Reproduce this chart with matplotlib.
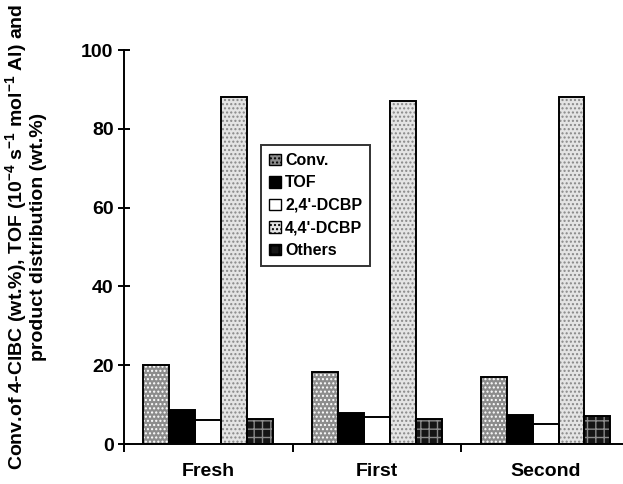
import matplotlib
matplotlib.use("Agg")
import matplotlib.pyplot as plt
import numpy as np
from matplotlib.patches import Patch

plt.rcParams['font.family'] = ['Liberation Sans', 'DejaVu Sans']
plt.rcParams['font.weight'] = 'bold'
plt.rcParams['mathtext.fontset'] = 'custom'
plt.rcParams['mathtext.rm'] = 'Liberation Sans:bold'
plt.rcParams['mathtext.bf'] = 'Liberation Sans:bold'
plt.rcParams['mathtext.default'] = 'bf'
plt.rcParams['hatch.linewidth'] = 1.0

categories = ['Fresh', 'First', 'Second']
series = ['Conv.', 'TOF', "2,4'-DCBP", "4,4'-DCBP", 'Others']
conv = [20.0, 18.4, 17.0]
tof = [8.6, 7.9, 7.3]
dcbp24 = [6.1, 6.9, 5.0]
dcbp44 = [88.0, 87.0, 88.0]
others = [6.3, 6.3, 7.0]
values = [conv, tof, dcbp24, dcbp44, others]

# style: facecolor, hatch, hatch colour
styles = [
    ('#8c8c8c', '....', '#ffffff'),
    ('#000000', None, '#000000'),
    ('#ffffff', None, '#000000'),
    ('#e4e4e4', '....', '#888888'),
    ('#151515', '++', '#8a8a8a'),
]

fig = plt.figure(figsize=(6.23, 4.84), dpi=100)
ax = fig.add_axes([0.199, 0.0826, 0.812, 0.814])

centers = np.arange(len(categories)) + 0.5
w = 0.154
handles = []
for i, (name, vals) in enumerate(zip(series, values)):
    fc, h, hc = styles[i]
    x = centers + (i - 2) * w
    ax.bar(x, vals, width=w, color=fc, hatch=h, edgecolor=hc, linewidth=0, zorder=2)
    ax.bar(x, vals, width=w, fill=False, edgecolor='black', linewidth=1.4, zorder=3)
    handles.append(Patch(facecolor=fc, hatch=h, edgecolor='black', linewidth=1.0, label=name))

ax.set_xlim(0, 3)
ax.set_ylim(0, 100)
ax.set_yticks([0, 20, 40, 60, 80, 100])
ax.tick_params(axis='y', direction='inout', length=9, width=1.4, labelsize=14, pad=3)
ax.set_xticks([0, 1, 2, 3])
ax.set_xticklabels([])
ax.set_xticks(centers, minor=True)
ax.set_xticklabels(categories, minor=True)
ax.tick_params(axis='x', which='major', direction='out', length=6, width=1.4)
ax.tick_params(axis='x', which='minor', length=0, labelsize=14, pad=14)

for s in ['top', 'right']:
    ax.spines[s].set_visible(False)
for s in ['left', 'bottom']:
    ax.spines[s].set_linewidth(1.4)

ax.set_ylabel("Conv.of 4-ClBC (wt.%), TOF (10$^{-4}$ s$^{-1}$ mol$^{-1}$ Al) and\nproduct distribution (wt.%)",
              fontsize=14, fontweight='bold', linespacing=1.1)
ax.yaxis.set_label_coords(-0.152, 0.525)

leg = ax.legend(handles=handles, loc='lower left', bbox_to_anchor=(0.271, 0.452),
                fontsize=11.5, frameon=True, fancybox=False, borderpad=0.5,
                handlelength=0.75, handleheight=0.75, handletextpad=0.25,
                labelspacing=0.47, borderaxespad=0)
leg.get_frame().set_edgecolor('black')
leg.get_frame().set_linewidth(1.4)
for t in leg.get_texts():
    t.set_fontweight('bold')

fig.savefig('out.png', dpi=100)
